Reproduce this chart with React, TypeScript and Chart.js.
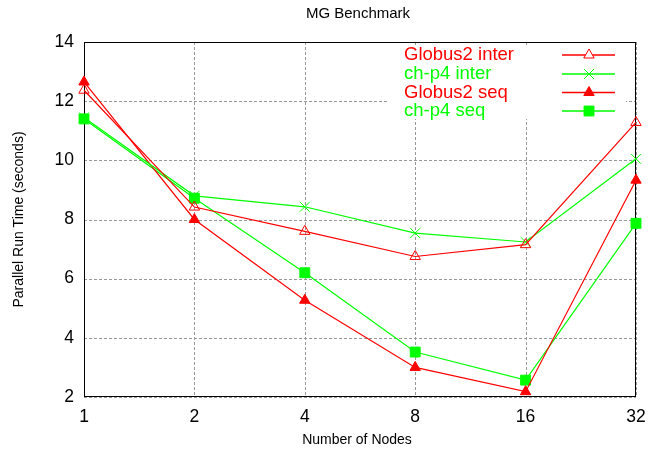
import React, { useEffect, useRef } from "react";
import { Chart, registerables } from "chart.js";
import { drawPoint } from "chart.js/helpers";

Chart.register(...registerables);

const nodeLabels = ["1", "2", "4", "8", "16", "32"];
const globusInter = [12.37, 8.42, 7.6, 6.75, 7.15, 11.28];
const chp4Inter = [11.45, 8.8, 8.43, 7.54, 7.24, 10.05];
const globusSeq = [12.65, 8.0, 5.27, 3.0, 2.18, 9.33];
const chp4Seq = [11.4, 8.72, 6.2, 3.52, 2.57, 7.87];
const yTicks = [2, 4, 6, 8, 10, 12, 14];

const RED = "rgb(255,0,0)";
const GREEN = "rgb(0,255,0)";
const FONT = "'Liberation Sans', Arial, sans-serif";
const GRID = "#999999";

const legendItems = [
  { label: "Globus2 inter", color: RED, style: "triangle", fill: false, r: 6 },
  { label: "ch-p4 inter", color: GREEN, style: "crossRot", fill: false, r: 7 },
  { label: "Globus2 seq", color: RED, style: "triangle", fill: true, r: 6 },
  { label: "ch-p4 seq", color: GREEN, style: "rect", fill: true, r: 7 },
];

function drawPt(ctx: any, style: string, r: number, x: number, y: number, fill: string, stroke: string) {
  ctx.save();
  ctx.fillStyle = fill;
  ctx.strokeStyle = stroke;
  ctx.lineWidth = 1;
  drawPoint(ctx, { pointStyle: style as any, radius: r, rotation: 0, borderWidth: 1 }, x, y);
  ctx.restore();
}

const decorPlugin = {
  id: "decor",
  beforeDatasetsDraw(chart: any) {
    const { ctx, chartArea: a, scales } = chart;
    ctx.save();
    ctx.strokeStyle = GRID;
    ctx.lineWidth = 1;
    ctx.setLineDash([3, 2]);
    ctx.beginPath();
    scales.x.ticks.forEach((_t: any, i: number) => {
      const x = Math.round(scales.x.getPixelForTick(i)) + 0.5;
      ctx.moveTo(x, a.top);
      ctx.lineTo(x, a.bottom);
    });
    scales.y.ticks.forEach((t: any) => {
      const y = Math.round(scales.y.getPixelForValue(t.value)) + 0.5;
      ctx.moveTo(a.left, y);
      ctx.lineTo(a.right, y);
    });
    ctx.stroke();
    ctx.setLineDash([]);
    ctx.fillStyle = "#ffffff";
    ctx.fillRect(388, 45, 238, 74);
    ctx.strokeStyle = "#000";
    ctx.strokeRect(Math.round(a.left) + 0.5, Math.round(a.top) + 0.5, Math.round(a.right - a.left) - 1, Math.round(a.bottom - a.top) - 1);
    ctx.restore();
  },
  afterDraw(chart: any) {
    const ctx = chart.ctx;
    const area = chart.chartArea;
    ctx.save();
    ctx.fillStyle = "#000";
    ctx.textAlign = "center";
    ctx.textBaseline = "middle";
    ctx.font = `15px ${FONT}`;
    ctx.fillText("MG Benchmark", 358, 14);
    ctx.font = `14px ${FONT}`;
    ctx.fillText("Number of Nodes", 357, 440);
    ctx.save();
    ctx.translate(19, (area.top + area.bottom) / 2);
    ctx.rotate(-Math.PI / 2);
    ctx.fillText("Parallel Run Time (seconds)", 0, 0);
    ctx.restore();

    const rows = [55, 74, 92.5, 111];
    ctx.font = `18.5px ${FONT}`;
    ctx.textAlign = "left";
    legendItems.forEach((it, i) => {
      const y = rows[i];
      ctx.fillStyle = it.color;
      ctx.fillText(it.label, 404, y);
      ctx.strokeStyle = it.color;
      ctx.lineWidth = 1.5;
      ctx.beginPath();
      ctx.moveTo(562, y);
      ctx.lineTo(615, y);
      ctx.stroke();
      drawPt(ctx, it.style, it.r, 589, y, it.fill ? it.color : "#ffffff", it.color);
    });
    ctx.restore();
  },
};

export default function App() {
  const ref = useRef<HTMLCanvasElement>(null);
  useEffect(() => {
    const ds = (label: string, data: number[], color: string, style: string, fill: boolean, r: number) => ({
      label,
      data,
      borderColor: color,
      backgroundColor: fill ? color : "rgba(255,255,255,0)",
      pointStyle: style,
      pointRadius: r,
      pointBorderWidth: 1,
      borderWidth: 1.2,
      tension: 0,
      fill: false,
    });
    const chart = new Chart(ref.current!, {
      type: "line",
      data: {
        labels: nodeLabels,
        datasets: [
          ds("Globus2 inter", globusInter, RED, "triangle", false, 6),
          ds("ch-p4 inter", chp4Inter, GREEN, "crossRot", false, 7),
          ds("Globus2 seq", globusSeq, RED, "triangle", true, 6),
          ds("ch-p4 seq", chp4Seq, GREEN, "rect", true, 7),
        ],
      },
      options: {
        animation: false,
        responsive: false,
        devicePixelRatio: 1,
        layout: { padding: { left: 0, right: 22, top: 42, bottom: 0 } },
        plugins: {
          legend: { display: false },
          title: { display: false },
          tooltip: { enabled: false },
        },
        scales: {
          x: {
            type: "category",
            offset: false,
            grid: { display: false, drawTicks: false, tickLength: 0 },
            border: { display: false },
            ticks: {
              color: "#000",
              font: { family: FONT, size: 17.5 },
              padding: 10,
              maxRotation: 0,
              autoSkip: false,
            },
            afterFit(scale: any) {
              scale.height = 58;
            },
          },
          y: {
            type: "linear",
            min: 2,
            max: 14,
            afterBuildTicks(scale: any) {
              scale.ticks = yTicks.map((v) => ({ value: v }));
            },
            grid: { display: false, drawTicks: false, tickLength: 0 },
            border: { display: false },
            ticks: {
              color: "#000",
              font: { family: FONT, size: 17.5 },
              padding: 10,
            },
            afterFit(scale: any) {
              scale.width = 84;
            },
          },
        },
      },
      plugins: [decorPlugin],
    } as any);
    return () => chart.destroy();
  }, []);
  return (
    <div style={{ position: "fixed", left: 0, top: 0, width: 658, height: 455, background: "#fff" }}>
      <canvas ref={ref} width={658} height={455} style={{ width: 658, height: 455, display: "block" }} />
    </div>
  );
}
